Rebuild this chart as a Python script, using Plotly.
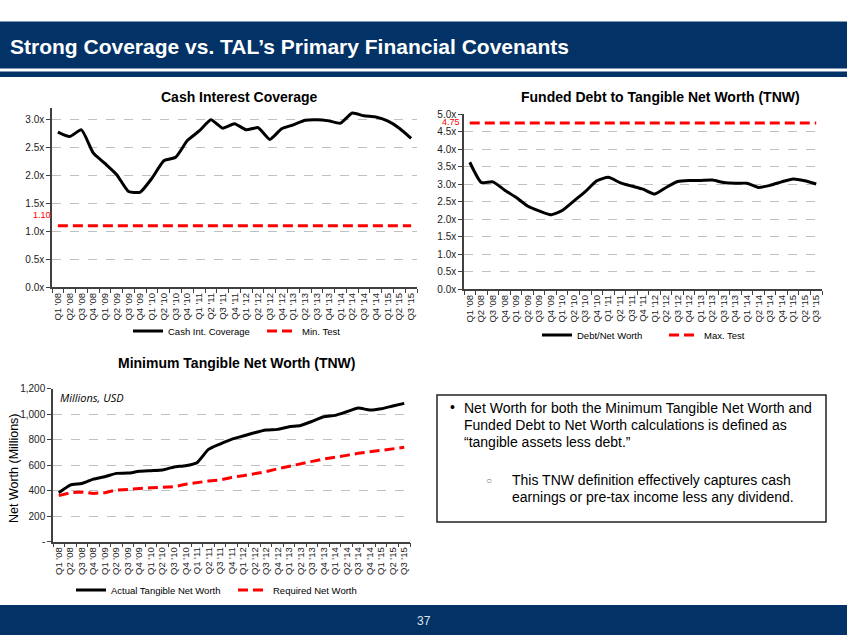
import plotly.graph_objects as go

W, H = 847, 635

quarters = ["Q1 '08", "Q2 '08", "Q3 '08", "Q4 '08", "Q1 '09", "Q2 '09", "Q3 '09", "Q4 '09",
            "Q1 '10", "Q2 '10", "Q3 '10", "Q4 '10", "Q1 '11", "Q2 '11", "Q3 '11", "Q4 '11",
            "Q1 '12", "Q2 '12", "Q3 '12", "Q4 '12", "Q1 '13", "Q2 '13", "Q3 '13", "Q4 '13",
            "Q1 '14", "Q2 '14", "Q3 '14", "Q4 '14", "Q1 '15", "Q2 '15", "Q3 '15"]

cash_int_coverage = [2.77, 2.69, 2.81, 2.40, 2.21, 2.01, 1.71, 1.70, 1.95, 2.26, 2.32, 2.62,
                     2.79, 2.99, 2.84, 2.92, 2.81, 2.85, 2.64, 2.83, 2.90, 2.98, 2.99, 2.97,
                     2.93, 3.11, 3.06, 3.04, 2.97, 2.84, 2.66]
min_test = [1.10] * 31

debt_net_worth = [3.63, 3.05, 3.07, 2.84, 2.63, 2.38, 2.24, 2.13, 2.25, 2.52, 2.79, 3.10,
                  3.20, 3.05, 2.95, 2.86, 2.72, 2.91, 3.08, 3.11, 3.11, 3.12, 3.05, 3.03,
                  3.03, 2.91, 2.97, 3.07, 3.15, 3.10, 3.01]
max_test = [4.75] * 31

actual_tnw = [384, 444, 457, 491, 510, 536, 538, 552, 557, 562, 586, 596, 620, 724, 766, 803,
              829, 855, 876, 881, 902, 912, 944, 980, 991, 1019, 1048, 1033, 1043, 1064, 1085]
required_nw = [361, 384, 390, 379, 384, 405, 410, 418, 423, 426, 431, 450, 465, 476, 484, 504,
               518, 533, 549, 572, 593, 612, 630, 648, 661, 677, 693, 706, 719, 729, 740]

tnw_tickvals = [0, 200, 400, 600, 800, 1000, 1200]
tnw_ticktext = ["-", "200", "400", "600", "800", "1,000", "1,200"]
cov_tickvals = [0, 0.5, 1.0, 1.5, 2.0, 2.5, 3.0]
cov_ticktext = ["0.0x", "0.5x", "1.0x", "1.5x", "2.0x", "2.5x", "3.0x"]
dnw_tickvals = [0, 0.5, 1.0, 1.5, 2.0, 2.5, 3.0, 3.5, 4.0, 4.5, 5.0]
dnw_ticktext = ["0.0x", "0.5x", "1.0x", "1.5x", "2.0x", "2.5x", "3.0x", "3.5x", "4.0x",
                "4.5x", "5.0x"]

NAVY = "#033366"
RED = "#ff0000"
FONT = "Liberation Sans, Arial, sans-serif"


def px(x):
    return x / W


def py(y):
    return 1 - y / H


fig = go.Figure()

blk = dict(color="black", width=3, shape="spline", smoothing=0.5)
red = dict(color=RED, width=3, dash="10px,5px")

fig.add_trace(go.Scatter(x=quarters, y=cash_int_coverage, mode="lines", line=blk,
                         name="Cash Int. Coverage", xaxis="x", yaxis="y", legend="legend"))
fig.add_trace(go.Scatter(x=quarters, y=min_test, mode="lines", line=red,
                         name="Min. Test", xaxis="x", yaxis="y", legend="legend"))
fig.add_trace(go.Scatter(x=quarters, y=debt_net_worth, mode="lines", line=blk,
                         name="Debt/Net Worth", xaxis="x2", yaxis="y2", legend="legend2"))
fig.add_trace(go.Scatter(x=quarters, y=max_test, mode="lines", line=red,
                         name="Max. Test", xaxis="x2", yaxis="y2", legend="legend2"))
fig.add_trace(go.Scatter(x=quarters, y=actual_tnw, mode="lines", line=blk,
                         name="Actual Tangible Net Worth", xaxis="x3", yaxis="y3", legend="legend3"))
fig.add_trace(go.Scatter(x=quarters, y=required_nw, mode="lines", line=red,
                         name="Required Net Worth", xaxis="x3", yaxis="y3", legend="legend3"))

xbase = dict(type="category", range=[-0.5, 30.5], tickangle=-90, showgrid=False,
             tickmode="array", tickvals=quarters, ticktext=quarters,
             showline=True, linecolor="#404040", linewidth=1.5, ticks="outside",
             tickson="boundaries", ticklen=4, tickcolor="#404040",
             tickfont=dict(family=FONT, size=9.5, color="#222"), fixedrange=True)
ybase = dict(showgrid=True, gridcolor="#c0c0c0", griddash="dash", gridwidth=1,
             showline=True, linecolor="#404040", linewidth=1.5, ticks="outside",
             ticklen=4, tickcolor="#404040", zeroline=False, tickmode="array",
             tickfont=dict(family=FONT, size=10, color="#222"), fixedrange=True)

fig.update_layout(
    width=W, height=H, autosize=False,
    margin=dict(l=0, r=0, t=0, b=0, pad=0, autoexpand=False),
    paper_bgcolor="white", plot_bgcolor="rgba(0,0,0,0)",
    font=dict(family=FONT, color="black"),
    xaxis=dict(xbase, domain=[px(52), px(417)], anchor="y"),
    yaxis=dict(ybase, domain=[py(287.3), py(108)], anchor="x", range=[0, 3.2],
               tickvals=cov_tickvals, ticktext=cov_ticktext),
    xaxis2=dict(xbase, domain=[px(464), px(822)], anchor="y2"),
    yaxis2=dict(ybase, domain=[py(289.3), py(114.3)], anchor="x2", range=[0, 5.0],
                tickvals=dnw_tickvals, ticktext=dnw_ticktext),
    xaxis3=dict(xbase, domain=[px(53), px(410)], anchor="y3"),
    yaxis3=dict(ybase, domain=[py(541.7), py(388.7)], anchor="x3", range=[0, 1200],
                tickvals=tnw_tickvals, ticktext=tnw_ticktext),
    showlegend=True,
)

legend_common = dict(orientation="h", yanchor="middle", xanchor="left",
                     bgcolor="rgba(0,0,0,0)", font=dict(family=FONT, size=9.5, color="black"),
                     entrywidthmode="pixels", itemclick=False, itemdoubleclick=False)
fig.update_layout(
    legend=dict(legend_common, x=px(128), y=py(331), entrywidth=89),
    legend2=dict(legend_common, x=px(537), y=py(335), entrywidth=82),
    legend3=dict(legend_common, x=px(71), y=py(590), entrywidth=117),
)

shapes = [
    dict(type="rect", xref="paper", yref="paper", x0=0, x1=1, y0=py(68.5), y1=py(21.5),
         fillcolor=NAVY, line=dict(width=0), layer="below"),
    dict(type="rect", xref="paper", yref="paper", x0=0, x1=1, y0=py(77), y1=py(71.5),
         fillcolor=NAVY, line=dict(width=0), layer="below"),
    dict(type="rect", xref="paper", yref="paper", x0=0, x1=1, y0=0, y1=py(605),
         fillcolor=NAVY, line=dict(width=0), layer="below"),
    dict(type="rect", xref="paper", yref="paper", x0=px(437), x1=px(826), y0=py(522), y1=py(395),
         fillcolor="white", line=dict(color="#222", width=1.5), layer="below"),
]
fig.update_layout(shapes=shapes)


def ann(text, x, y, size, xanchor="left", color="black", bold=False, angle=0, family=FONT):
    if bold:
        text = "<b>" + text + "</b>"
    fig.add_annotation(text=text, x=px(x), y=py(y), xref="paper", yref="paper",
                       xanchor=xanchor, yanchor="middle", showarrow=False, textangle=angle,
                       font=dict(family=family, size=size, color=color))


ann("Strong Coverage vs. TAL’s Primary Financial Covenants", 8, 46, 21, color="white", bold=True)
ann("Cash Interest Coverage", 239, 97, 14, xanchor="center", bold=True)
ann("Funded Debt to Tangible Net Worth (TNW)", 660, 97, 14, xanchor="center", bold=True)
ann("Minimum Tangible Net Worth (TNW)", 236, 363, 14, xanchor="center", bold=True)
ann("1.10", 53, 215, 9, xanchor="right", color=RED)
ann("4.75", 462, 122, 9, xanchor="right", color=RED)
ann("<i>Millions, USD</i>", 58, 397, 11, family="Open Sans, sans-serif")
ann("Net Worth (Millions)", 14, 468, 12.5, xanchor="center", angle=-90)
ann("37", 424, 621, 12, xanchor="center", color="#dde3ea")

ann("•", 448, 407, 14)
ann("Net Worth for both the Minimum Tangible Net Worth and", 462, 408, 14)
ann("Funded Debt to Net Worth calculations is defined as", 462, 425, 14)
ann("“tangible assets less debt.”", 462, 442, 14)
ann("○", 484, 480, 10, color="#777")
ann("This TNW definition effectively captures cash", 510, 480, 14)
ann("earnings or pre-tax income less any dividend.", 510, 497, 14)

fig.write_html("out.html", config={"responsive": False, "displayModeBar": False},
               post_script="document.body.style.margin='0';document.body.style.overflow='hidden';")
